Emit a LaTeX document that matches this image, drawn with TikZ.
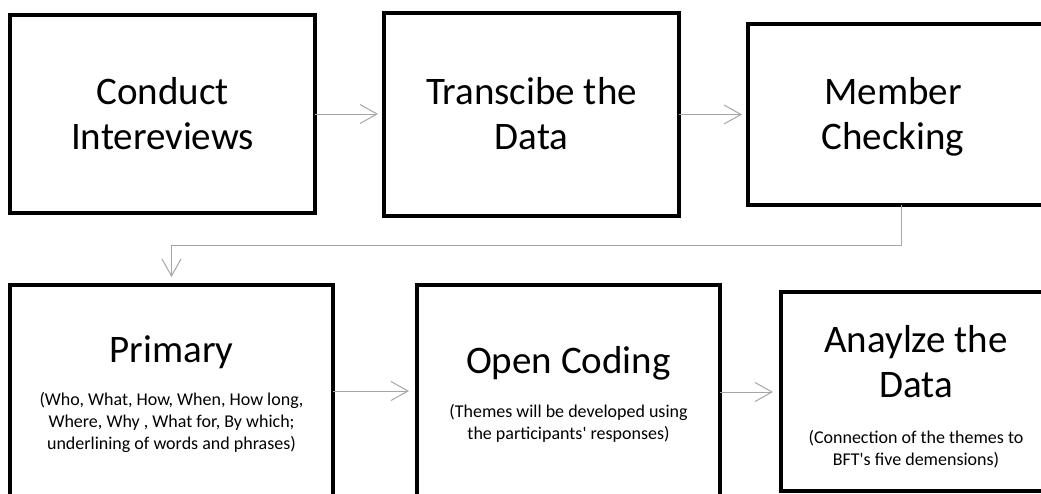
\documentclass[tikz,border=0pt]{standalone}
\usepackage{fontspec}
\setmainfont{Carlito}
\usetikzlibrary{arrows.meta}
\definecolor{linkgray}{HTML}{A6A6A6}
\tikzset{
  stepbox/.style={draw=black, line width=3.2pt, fill=none, inner sep=0pt, outer sep=0pt},
  % multi-line texts are placed by the baseline of their last line
  bigtext/.style={anchor=base, align=center, inner sep=0pt, font=\fontsize{39}{45}\selectfont},
  smalltext/.style={anchor=base, align=center, inner sep=0pt, font=\fontsize{18}{22}\selectfont},
  link/.style={draw=linkgray, line width=1pt, -{Straight Barb[length=17pt,width=19pt,line width=1pt]}, shorten >=7pt}
}
\begin{document}
\begin{tikzpicture}[x=1pt,y=-1pt]
\useasboundingbox (0,0) rectangle (1041,493);
\clip (0,0) rectangle (1041,493);

% top row
\node[stepbox, minimum width=305, minimum height=198] (b1) at (162.5,114) {};
\node[stepbox, minimum width=295, minimum height=203] (b2) at (531.5,114.5) {};
\node[stepbox, minimum width=306, minimum height=181] (b3) at (901,114.5) {};

\node[bigtext] (t1) at (162.5,149) {Conduct\\Intereviews};
\node[bigtext] (t2) at (531.5,149) {Transcibe the\\Data};
\node[bigtext] (t3) at (893,149) {Member\\Checking};

% bottom row
\node[stepbox, minimum width=323, minimum height=212] (b4) at (171.5,391) {};
\node[stepbox, minimum width=303, minimum height=214] (b5) at (568.5,392) {};
\node[stepbox, minimum width=270, minimum height=199] (b6) at (916,391.5) {};

\node[bigtext] (t4) at (171.5,362) {Primary};
\node[smalltext] (s4) at (171.5,449) {(Who, What, How, When, How long,\\Where, Why , What for, By which;\\underlining of words and phrases)};
\node[bigtext] (t5) at (568.5,373) {Open Coding};
\node[smalltext] (s5) at (568.5,439) {(Themes will be developed using\\the participants\textquotesingle\ responses)};
\node[bigtext] (t6) at (916,397) {Anaylze the\\Data};
\node[smalltext] (s6) at (916,465) {(Connection of the themes to\\BFT\textquotesingle s five demensions)};

% connectors
\coordinate (turn) at (901,245);
\draw[link, shorten >=6pt] (b1.east) -- (b1.east -| b2.west);
\draw[link, shorten >=6pt] (b2.east) -- (b2.east -| b3.west);
\draw[link, shorten >=8pt] (b3.south) -- (turn) -- (turn -| b4.north) -- (b4.north);
\draw[link, shorten >=8pt] (b4.east) -- (b4.east -| b5.west);
\draw[link, shorten >=8pt] (b5.east) -- (b5.east -| b6.west);
\end{tikzpicture}
\end{document}
